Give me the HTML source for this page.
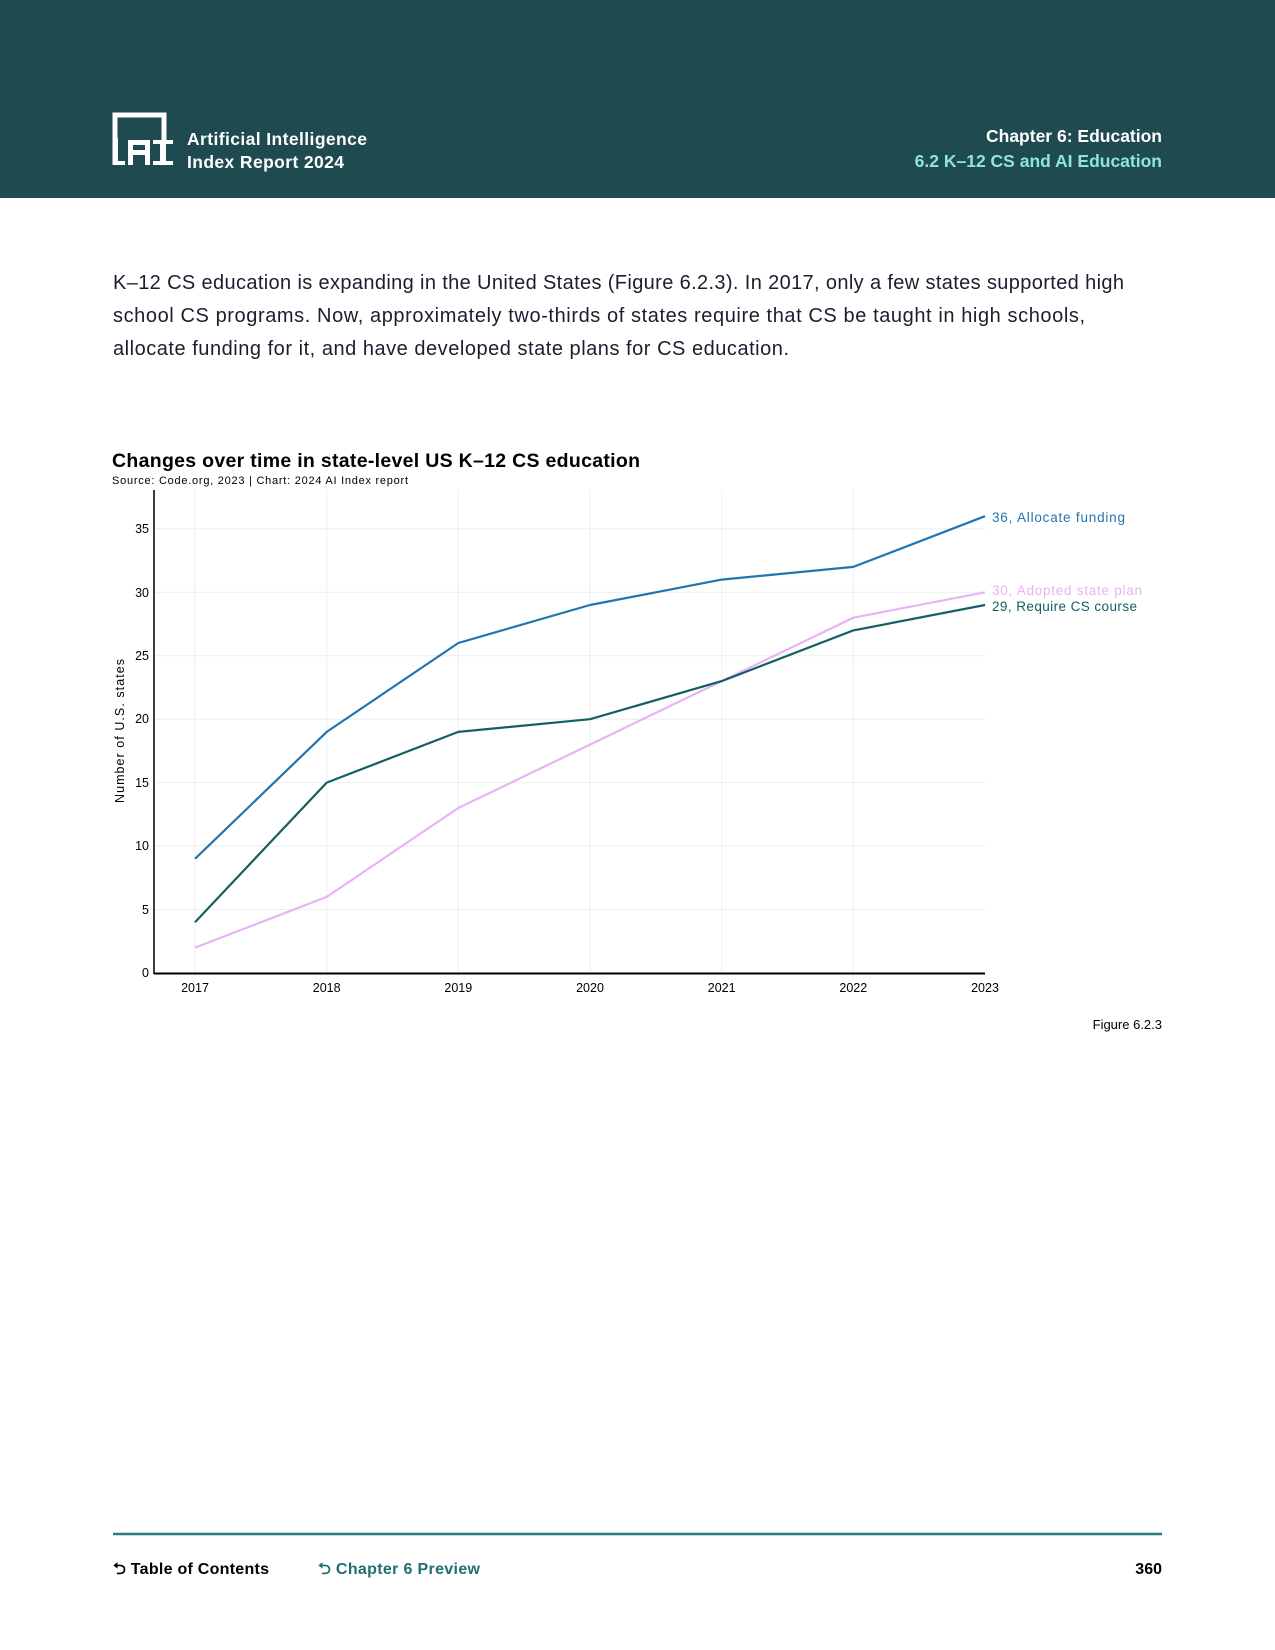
<!DOCTYPE html>
<html><head><meta charset="utf-8"><style>
html,body{margin:0;padding:0;background:#fff}
svg{display:block}
text{font-family:"Liberation Sans",sans-serif}
</style></head><body>
<svg width="1275" height="1650" viewBox="0 0 1275 1650" xmlns="http://www.w3.org/2000/svg">
<rect x="0" y="0" width="1275" height="198" fill="#1f4a50"/>
<g fill="none" stroke="#fff" stroke-width="5">
<path d="M115 165 V115 H164 V140"/>
</g>
<g fill="#fff">
<rect x="113" y="138" width="5" height="27"/>
<rect x="113" y="161" width="12" height="4"/>
<path d="M128 165 V140 H150 V165 H145 V155 H133 V165 Z M133 145 V150 H145 V145 Z"/>
<rect x="153" y="140" width="20" height="4"/>
<rect x="160" y="140" width="6" height="25"/>
<rect x="153" y="161" width="20" height="4"/>
</g>
<text x="187" y="145" fill="#fff" font-size="17.5" font-weight="bold" textLength="180">Artificial Intelligence</text>
<text x="187" y="168" fill="#fff" font-size="17.5" font-weight="bold" textLength="157">Index Report 2024</text>
<text x="1162" y="142" fill="#fff" font-size="17.5" font-weight="bold" text-anchor="end">Chapter 6: Education</text>
<text x="1162" y="167" fill="#8fe3e3" font-size="17.5" font-weight="bold" text-anchor="end">6.2 K–12 CS and AI Education</text>

<g fill="#1a1f2e" font-size="20">
<text x="113" y="289" textLength="1011">K–12 CS education is expanding in the United States (Figure 6.2.3). In 2017, only a few states supported high</text>
<text x="113" y="322" textLength="972">school CS programs. Now, approximately two-thirds of states require that CS be taught in high schools,</text>
<text x="113" y="355" textLength="676">allocate funding for it, and have developed state plans for CS education.</text>
</g>

<text x="112" y="467" font-size="19.5" font-weight="bold" fill="#000" textLength="528">Changes over time in state-level US K–12 CS education</text>
<text x="112" y="484" font-size="11" fill="#000" textLength="296">Source: Code.org, 2023 | Chart: 2024 AI Index report</text>

<g stroke="#eeeeee" stroke-width="1">
<line x1="195" y1="490" x2="195" y2="973"/><line x1="326.7" y1="490" x2="326.7" y2="973"/>
<line x1="458.3" y1="490" x2="458.3" y2="973"/><line x1="590" y1="490" x2="590" y2="973"/>
<line x1="721.7" y1="490" x2="721.7" y2="973"/><line x1="853.3" y1="490" x2="853.3" y2="973"/>
<line x1="154" y1="909.5" x2="985" y2="909.5"/><line x1="154" y1="846.1" x2="985" y2="846.1"/>
<line x1="154" y1="782.6" x2="985" y2="782.6"/><line x1="154" y1="719.2" x2="985" y2="719.2"/>
<line x1="154" y1="655.7" x2="985" y2="655.7"/><line x1="154" y1="592.3" x2="985" y2="592.3"/>
<line x1="154" y1="528.8" x2="985" y2="528.8"/>
</g>
<line x1="154" y1="490" x2="154" y2="974" stroke="#000" stroke-width="1.5"/>
<line x1="154" y1="973.5" x2="985" y2="973.5" stroke="#000" stroke-width="2"/>
<g font-size="12.5" fill="#000" text-anchor="end">
<text x="149" y="977">0</text><text x="149" y="914">5</text><text x="149" y="850">10</text>
<text x="149" y="787">15</text><text x="149" y="723">20</text><text x="149" y="660">25</text>
<text x="149" y="597">30</text><text x="149" y="533">35</text>
</g>
<g font-size="12.5" fill="#000" text-anchor="middle">
<text x="195" y="992">2017</text><text x="326.7" y="992">2018</text><text x="458.3" y="992">2019</text>
<text x="590" y="992">2020</text><text x="721.7" y="992">2021</text><text x="853.3" y="992">2022</text>
<text x="985" y="992">2023</text>
</g>
<text transform="translate(124,731) rotate(-90)" font-size="12.5" fill="#000" text-anchor="middle" textLength="144">Number of U.S. states</text>

<g fill="none" stroke-width="2.2" stroke-linejoin="round">
<polyline stroke="#e8b3f5" points="195,947.6 326.7,896.9 458.3,808 590,744.6 721.7,681.1 853.3,617.7 985,592.3"/>
<polyline stroke="#135f62" points="195,922.2 326.7,782.6 458.3,731.9 590,719.2 721.7,681.1 853.3,630.4 985,605"/>
<polyline stroke="#2274b0" points="195,858.8 326.7,731.9 458.3,643 590,605 721.7,579.6 853.3,566.9 985,516.2"/>
</g>
<g font-size="13.5">
<text x="992" y="522" fill="#2274b0" textLength="133">36, Allocate funding</text>
<text x="992" y="595" fill="#e8b3f5" textLength="150">30, Adopted state plan</text>
<text x="992" y="611" fill="#135f62" textLength="145">29, Require CS course</text>
</g>
<text x="1162" y="1029" font-size="13" fill="#000" text-anchor="end">Figure 6.2.3</text>

<line x1="113" y1="1534" x2="1162" y2="1534" stroke="#2b7a80" stroke-width="2.5"/>
<text x="113" y="1574" font-size="16" font-weight="bold" fill="#000" textLength="156">⮌ Table of Contents</text>
<text x="318" y="1574" font-size="16" font-weight="bold" fill="#1f6e72" textLength="162">⮌ Chapter 6 Preview</text>
<text x="1162" y="1574" font-size="16" font-weight="bold" fill="#000" text-anchor="end">360</text>
</svg>
</body></html>
